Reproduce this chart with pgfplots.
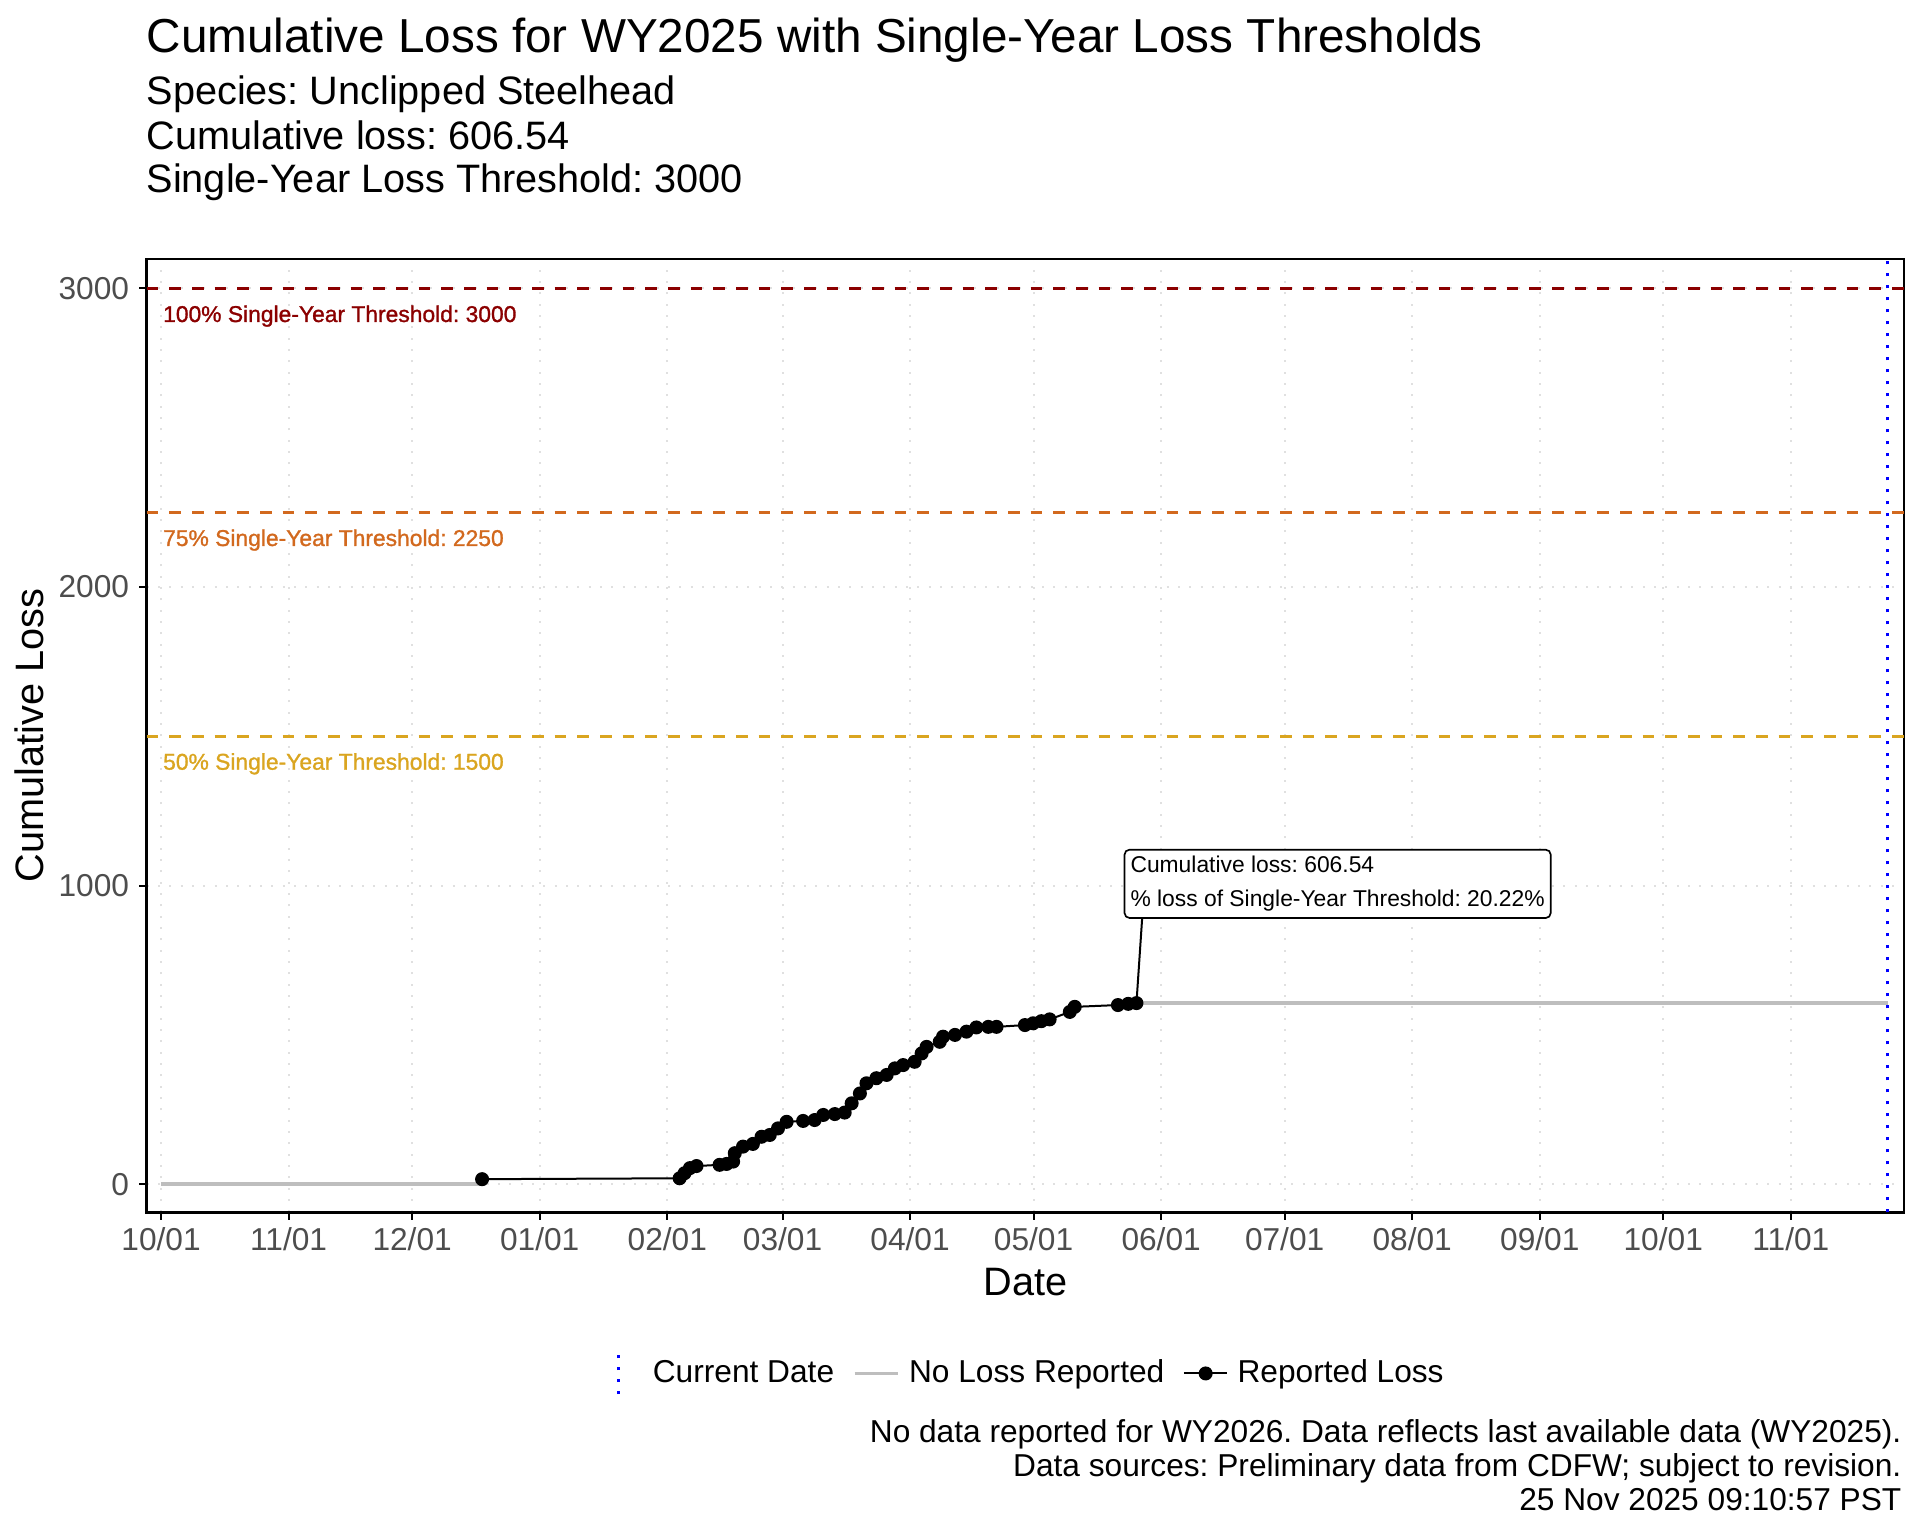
\documentclass[border=0pt]{standalone}
\usepackage{fontspec}
\setmainfont{Liberation Sans}
\newfontfamily\heavy[FakeBold=1.2]{Liberation Sans}
\usepackage{pgfplots}
\pgfplotsset{compat=1.18}

\definecolor{thr100}{HTML}{8B0000}
\definecolor{thr75}{HTML}{D2691E}
\definecolor{thr50}{HTML}{DAA520}
\definecolor{noloss}{HTML}{BEBEBE}
\definecolor{gridc}{HTML}{E0E0E0}
\definecolor{tickc}{HTML}{4D4D4D}
\newcommand\fs[2]{\fontsize{#1}{#2}\selectfont}

\pgfplotsset{
  vlegend/.style={legend image code/.code={\path[draw=none] (-1bp,0bp) rectangle (13bp,0bp);
      \draw[##1] (5.5bp,-6.2bp) -- (5.5bp,6.2bp);}},
  hlegend/.style={legend image code/.code={\draw[##1] (0bp,0bp) -- (13bp,0bp);}},
  mlegend/.style={legend image code/.code={\draw[##1, mark=none] (0bp,0bp) -- (13bp,0bp);
      \draw[##1] plot coordinates {(6.5bp,0bp)};}},
}

\begin{document}
\frenchspacing
\begin{tikzpicture}
\path[use as bounding box] (0,0) rectangle (576bp,460.8bp);

% titles
\node[anchor=base west, inner sep=0pt, font=\fs{14.3bp}{17bp}] at (43.8bp,445.0bp) {Cumulative Loss for WY2025 with Single-Year Loss Thresholds};
\node[anchor=base west, inner sep=0pt, font=\fs{11.9bp}{14bp}] at (43.8bp,429.4bp) {Species: Unclipped Steelhead};
\node[anchor=base west, inner sep=0pt, font=\fs{11.9bp}{14bp}] at (43.8bp,415.9bp) {Cumulative loss: 606.54};
\node[anchor=base west, inner sep=0pt, font=\fs{11.9bp}{14bp}] at (43.8bp,402.9bp) {Single-Year Loss Threshold: 3000};

\begin{axis}[
  at={(44.0bp,97.1bp)}, anchor=south west,
  scale only axis, width=527.2bp, height=286.0bp,
  xmin=-3.5, xmax=423.5, ymin=-94, ymax=3098,
  xtick={0,31,61,92,123,151,182,212,243,273,304,335,365,396},
  xticklabels={10/01,11/01,12/01,01/01,02/01,03/01,04/01,05/01,06/01,07/01,08/01,09/01,10/01,11/01},
  ytick={0,1000,2000,3000},
  xtick pos=bottom, ytick pos=left,
  tick align=outside, major tick length=2.2bp,
  tick style={black, line width=0.6bp},
  axis line style={black, line width=0.8bp},
  grid=major,
  major grid style={gridc, line width=0.6bp, dash pattern=on 0.6bp off 2.8bp},
  /pgf/number format/assume math mode=true,
  /pgf/number format/set thousands separator={},
  ticklabel style={font=\fs{9.5bp}{11bp}, text=tickc},
  xticklabel style={anchor=north, inner sep=0pt, yshift=-2.2bp},
  yticklabel style={anchor=east, inner sep=0pt, xshift=-2.9bp},
  xlabel={Date}, ylabel={Cumulative Loss},
  label style={font=\fs{11.9bp}{14bp}},
  xlabel style={at={(rel axis cs:0.5,-0.0731)}, anchor=center, inner sep=0pt},
  ylabel style={at={(rel axis cs:-0.0665,0.5)}, anchor=center, inner sep=0pt},
  legend columns=3,
  legend style={draw=none, fill=none, at={(0.499,-0.169)}, anchor=center,
    font=\fs{9.5bp}{11bp}, inner sep=0pt,
    /tikz/every odd column/.append style={column sep=0.8bp},
    /tikz/every even column/.append style={column sep=3.6bp}},
  legend cell align=left,
  unbounded coords=jump,
]
% threshold lines
\addplot[thr100, line width=0.9bp, dash pattern=on 3.5bp off 3.3bp, forget plot] coordinates {(-3.5,3000) (423.5,3000)};
\addplot[thr75, line width=0.9bp, dash pattern=on 3.5bp off 3.3bp, forget plot] coordinates {(-3.5,2250) (423.5,2250)};
\addplot[thr50, line width=0.9bp, dash pattern=on 3.5bp off 3.3bp, forget plot] coordinates {(-3.5,1500) (423.5,1500)};

% current date
\addplot[blue, line width=0.9bp, dash pattern=on 0.9bp off 2.7bp, vlegend]
  coordinates {(419.5,-94) (419.5,3098)};
\addlegendentry{Current Date}

% no loss reported
\addplot[noloss, line width=1.1bp, hlegend]
  coordinates {(0,0) (78,0) (78,nan) (237,606.54) (419.5,606.54)};
\addlegendentry{No Loss Reported}

% leader line to the label
\addplot[black, line width=0.6bp, forget plot] coordinates {(237,606.54) (238.4,894)};

% reported loss
\addplot[black, line width=0.6bp, mark=*, mark size=1.8bp, mark options={fill=black, draw=black}, mlegend]
  coordinates {
  (78,17) (126,20) (127.2,37) (128.5,54) (130.1,61) (135.7,65) (137.4,68)
  (139,76) (139.4,104) (141.4,126) (143.8,135) (145.9,159) (147.9,165)
  (149.9,187) (152,209) (156,212) (158.8,215) (160.9,232) (163.7,235)
  (166.1,240) (167.8,271) (169.8,304) (171.4,338) (173.8,355) (176.3,366)
  (178.3,388) (180.3,399) (183.1,410) (184.8,438) (186,460) (189.2,477)
  (190,494) (192.9,500) (195.7,511) (198.1,525) (201,527) (203,527)
  (209.9,533) (211.9,539) (213.9,546) (215.9,552) (220.8,577) (222,594)
  (232.5,600) (235,604) (237,606.54)
  };
\addlegendentry{Reported Loss}

% threshold labels
\node[anchor=base west, inner sep=0pt, text=thr100, font=\heavy\fs{6.85bp}{8bp}] at (axis cs:0.35,2887) {100\% Single-Year Threshold: 3000};
\node[anchor=base west, inner sep=0pt, text=thr75, font=\heavy\fs{6.85bp}{8bp}] at (axis cs:0.35,2137) {75\% Single-Year Threshold: 2250};
\node[anchor=base west, inner sep=0pt, text=thr50, font=\heavy\fs{6.85bp}{8bp}] at (axis cs:0.35,1388) {50\% Single-Year Threshold: 1500};

% annotation box
\node[anchor=north west, draw=black, line width=0.5bp, rounded corners=1.5bp, fill=white,
  inner xsep=1.8bp, inner ysep=0pt, minimum height=20.5bp, align=left,
  font=\fs{6.85bp}{10.3bp}] at (axis cs:233.9,1123)
  {\rule[-1.2bp]{0pt}{1pt}Cumulative loss: 606.54\\\% loss of Single-Year Threshold: 20.22\%};
\end{axis}

% caption
\node[anchor=base east, inner sep=0pt, font=\fs{9.5bp}{11bp}] at (570.6bp,28.0bp) {No data reported for WY2026. Data reflects last available data (WY2025).};
\node[anchor=base east, inner sep=0pt, font=\fs{9.5bp}{11bp}] at (570.6bp,17.9bp) {Data sources: Preliminary data from CDFW; subject to revision.};
\node[anchor=base east, inner sep=0pt, font=\fs{9.5bp}{11bp}] at (570.6bp,7.8bp) {25 Nov 2025 09:10:57 PST};
\end{tikzpicture}
\end{document}
